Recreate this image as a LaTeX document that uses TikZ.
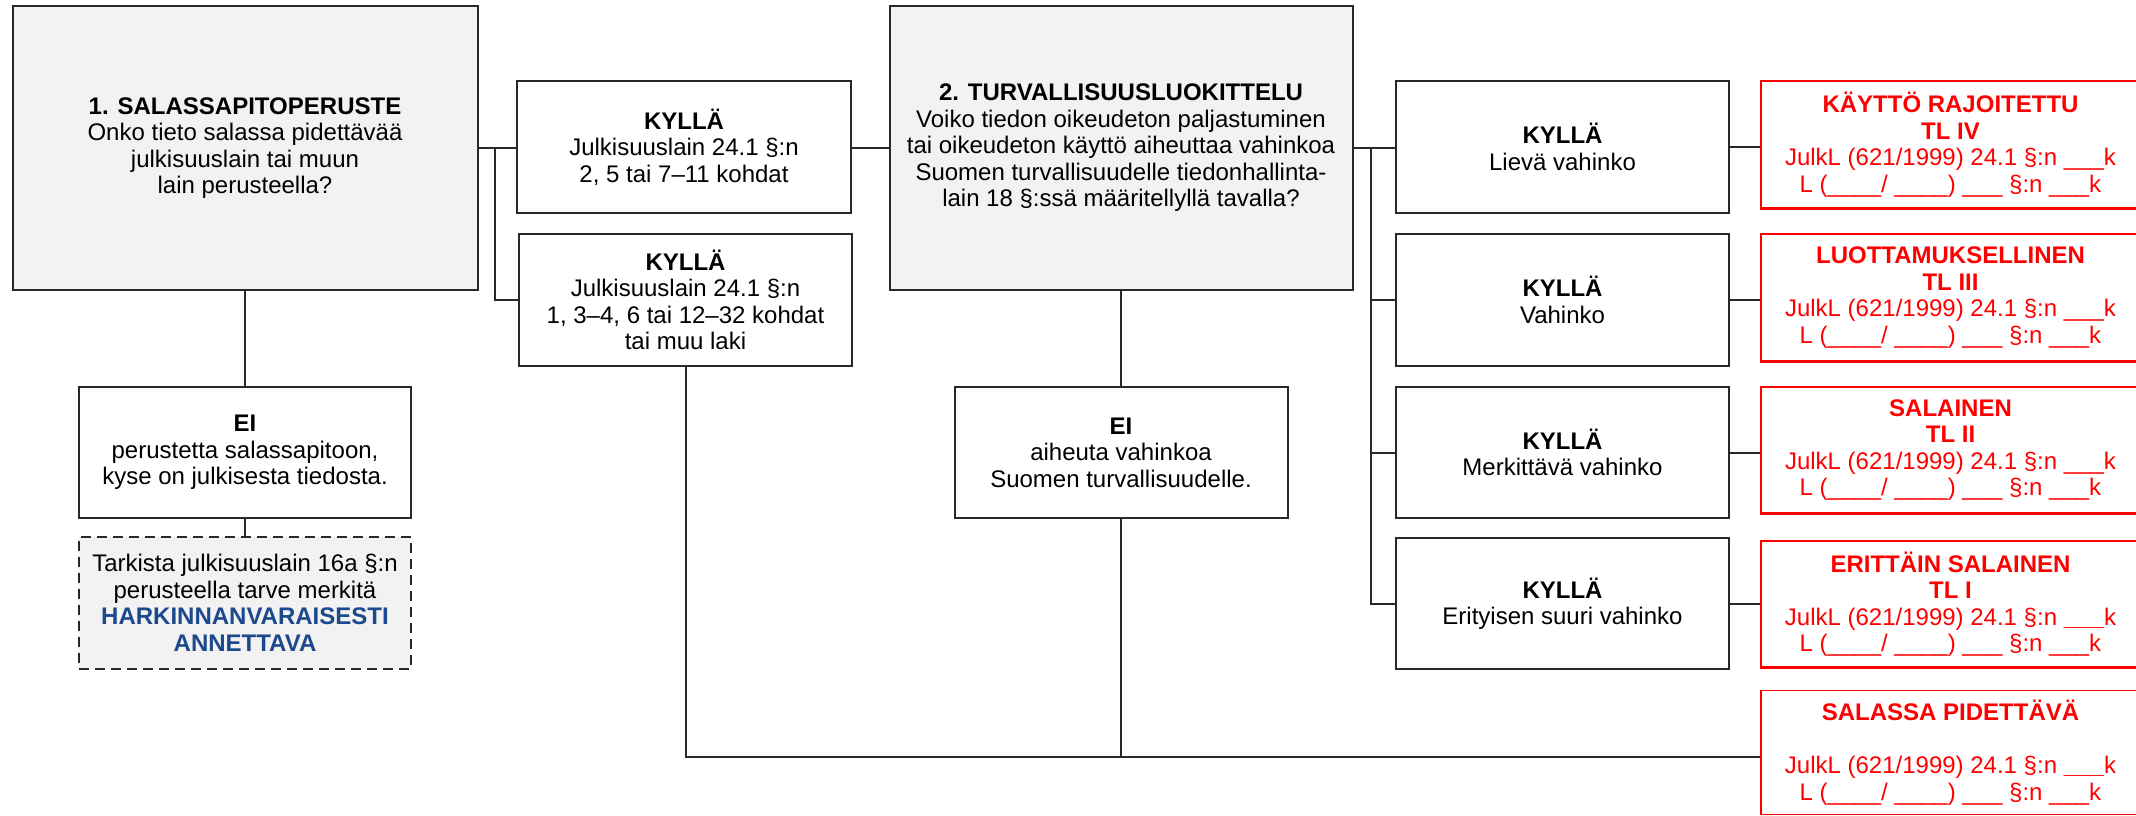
\documentclass[tikz,border=0pt]{standalone}
\usepackage{fontspec}
\setmainfont{Liberation Sans}
\definecolor{boxgray}{RGB}{242,242,242}
\definecolor{harkblue}{RGB}{28,72,140}
\definecolor{linegray}{RGB}{40,40,40}
\begin{document}
\begin{tikzpicture}[x=1pt,y=-1pt,
  base/.style={rectangle, align=center, inner sep=0pt, font=\fontsize{24}{26.5}\selectfont},
  qbox/.style={base, draw=linegray, line width=2pt, fill=boxgray},
  ansbox/.style={base, draw=linegray, line width=2pt, fill=white, minimum width=333pt, minimum height=132pt},
  notebox/.style={base, draw=linegray, line width=1.8pt, fill=boxgray, dash pattern=on 10pt off 6pt, minimum width=332pt, minimum height=132pt},
  redbox/.style={base, draw=red, text=red, line width=1.5pt, fill=white, minimum width=379pt, minimum height=127pt},
  conn/.style={draw=linegray, line width=2pt},
  redbottom/.style={draw=red, line width=3pt}
]
\useasboundingbox (0,0) rectangle (2136,815);
\clip (0,0) rectangle (2136,815);
\fill[white] (0,0) rectangle (2136,815);

% question boxes
\node[qbox, minimum width=465pt, minimum height=284pt] (q1) at (245,148)
  {\textbf{1. SALASSAPITOPERUSTE}\\Onko tieto salassa pidettävää\\julkisuuslain tai muun\\lain perusteella?};
\node[qbox, minimum width=463pt, minimum height=284pt] (q2) at (1121,148)
  {\textbf{2. TURVALLISUUSLUOKITTELU}\\Voiko tiedon oikeudeton paljastuminen\\tai oikeudeton käyttö aiheuttaa vahinkoa\\Suomen turvallisuudelle tiedonhallinta-\\lain 18 §:ssä määritellyllä tavalla?};

% answer boxes, first stage
\node[ansbox, minimum width=334pt] (k1) at (684,147)
  {\textbf{KYLLÄ}\\Julkisuuslain 24.1 §:n\\2, 5 tai 7–11 kohdat};
\node[ansbox] (k2) at (685.5,300)
  {\textbf{KYLLÄ}\\Julkisuuslain 24.1 §:n\\1, 3–4, 6 tai 12–32 kohdat\\tai muu laki};
\node[ansbox, minimum width=332pt, minimum height=131pt] (ei1) at (245,452.5)
  {\textbf{EI}\\perustetta salassapitoon,\\kyse on julkisesta tiedosta.};
\node[notebox] (note) at (245,603)
  {Tarkista julkisuuslain 16a §:n\\perusteella tarve merkitä\\\textcolor{harkblue}{\textbf{HARKINNANVARAISESTI}}\\\textcolor{harkblue}{\textbf{ANNETTAVA}}};

% answer boxes, second stage
\node[ansbox, minimum height=131pt] (ei2) at (1121,452.5)
  {\textbf{EI}\\aiheuta vahinkoa\\Suomen turvallisuudelle.};
\node[ansbox] (r1) at (1562.5,147) {\textbf{KYLLÄ}\\Lievä vahinko};
\node[ansbox] (r2) at (1562.5,300) {\textbf{KYLLÄ}\\Vahinko};
\node[ansbox, minimum height=131pt] (r3) at (1562.5,452.5) {\textbf{KYLLÄ}\\Merkittävä vahinko};
\node[ansbox, minimum height=131pt] (r4) at (1562.5,603.5) {\textbf{KYLLÄ}\\Erityisen suuri vahinko};

% red classification boxes
\node[redbox] (c1) at (1950.5,144.5)
  {\textbf{KÄYTTÖ RAJOITETTU}\\\textbf{TL IV}\\JulkL (621/1999) 24.1 §:n \_\_\_k\\L (\_\_\_\_/ \_\_\_\_) \_\_\_ §:n \_\_\_k};
\node[redbox] (c2) at (1950.5,297.5)
  {\textbf{LUOTTAMUKSELLINEN}\\\textbf{TL III}\\JulkL (621/1999) 24.1 §:n \_\_\_k\\L (\_\_\_\_/ \_\_\_\_) \_\_\_ §:n \_\_\_k};
\node[redbox, minimum height=126pt] (c3) at (1950.5,450)
  {\textbf{SALAINEN}\\\textbf{TL II}\\JulkL (621/1999) 24.1 §:n \_\_\_k\\L (\_\_\_\_/ \_\_\_\_) \_\_\_ §:n \_\_\_k};
\node[redbox, minimum height=126pt] (c4) at (1950.5,604)
  {\textbf{ERITTÄIN SALAINEN}\\\textbf{TL I}\\JulkL (621/1999) 24.1 §:n \textbf{\_\_\_}k\\L (\_\_\_\_/ \_\_\_\_) \_\_\_ §:n \_\_\_k};
\node[redbox, minimum height=124pt] (c5) at (1950.5,752.5)
  {\textbf{SALASSA PIDETTÄVÄ}\\[26.5pt]JulkL (621/1999) 24.1 §:n \textbf{\_\_\_}k\\L (\_\_\_\_/ \_\_\_\_) \_\_\_ §:n \_\_\_k};

\foreach \c in {c1,c2,c3,c4}{\draw[redbottom] (\c.south west) -- (\c.south east);}

% connectors
\coordinate (j1) at (495,148);
\coordinate (j2) at (1371,148);
\coordinate (bot) at (c5.west |- 0,757);
\draw[conn] (q1.east |- j1) -- (k1.west |- j1);
\draw[conn] (j1) |- (k2.west);
\draw[conn] (k1.east |- j1) -- (q2.west |- j1);
\draw[conn] (q1.south) -- (ei1.north);
\draw[conn] (ei1.south) -- (note.north);
\draw[conn] (q2.south) -- (ei2.north);
\draw[conn] (ei2.south) -- (ei2.south |- bot);
\draw[conn] (k2.south) |- (bot);
\draw[conn] (q2.east |- j2) -- (r1.west |- j2);
\draw[conn] (j2) |- (r2.west);
\draw[conn] (j2) |- (r3.west);
\draw[conn] (j2) |- (r4.west);
\draw[conn] (r1.east) -- (c1.west |- r1.east);
\draw[conn] (r2.east) -- (c2.west |- r2.east);
\draw[conn] (r3.east) -- (c3.west |- r3.east);
\draw[conn] (r4.east) -- (c4.west |- r4.east);
\end{tikzpicture}
\end{document}
